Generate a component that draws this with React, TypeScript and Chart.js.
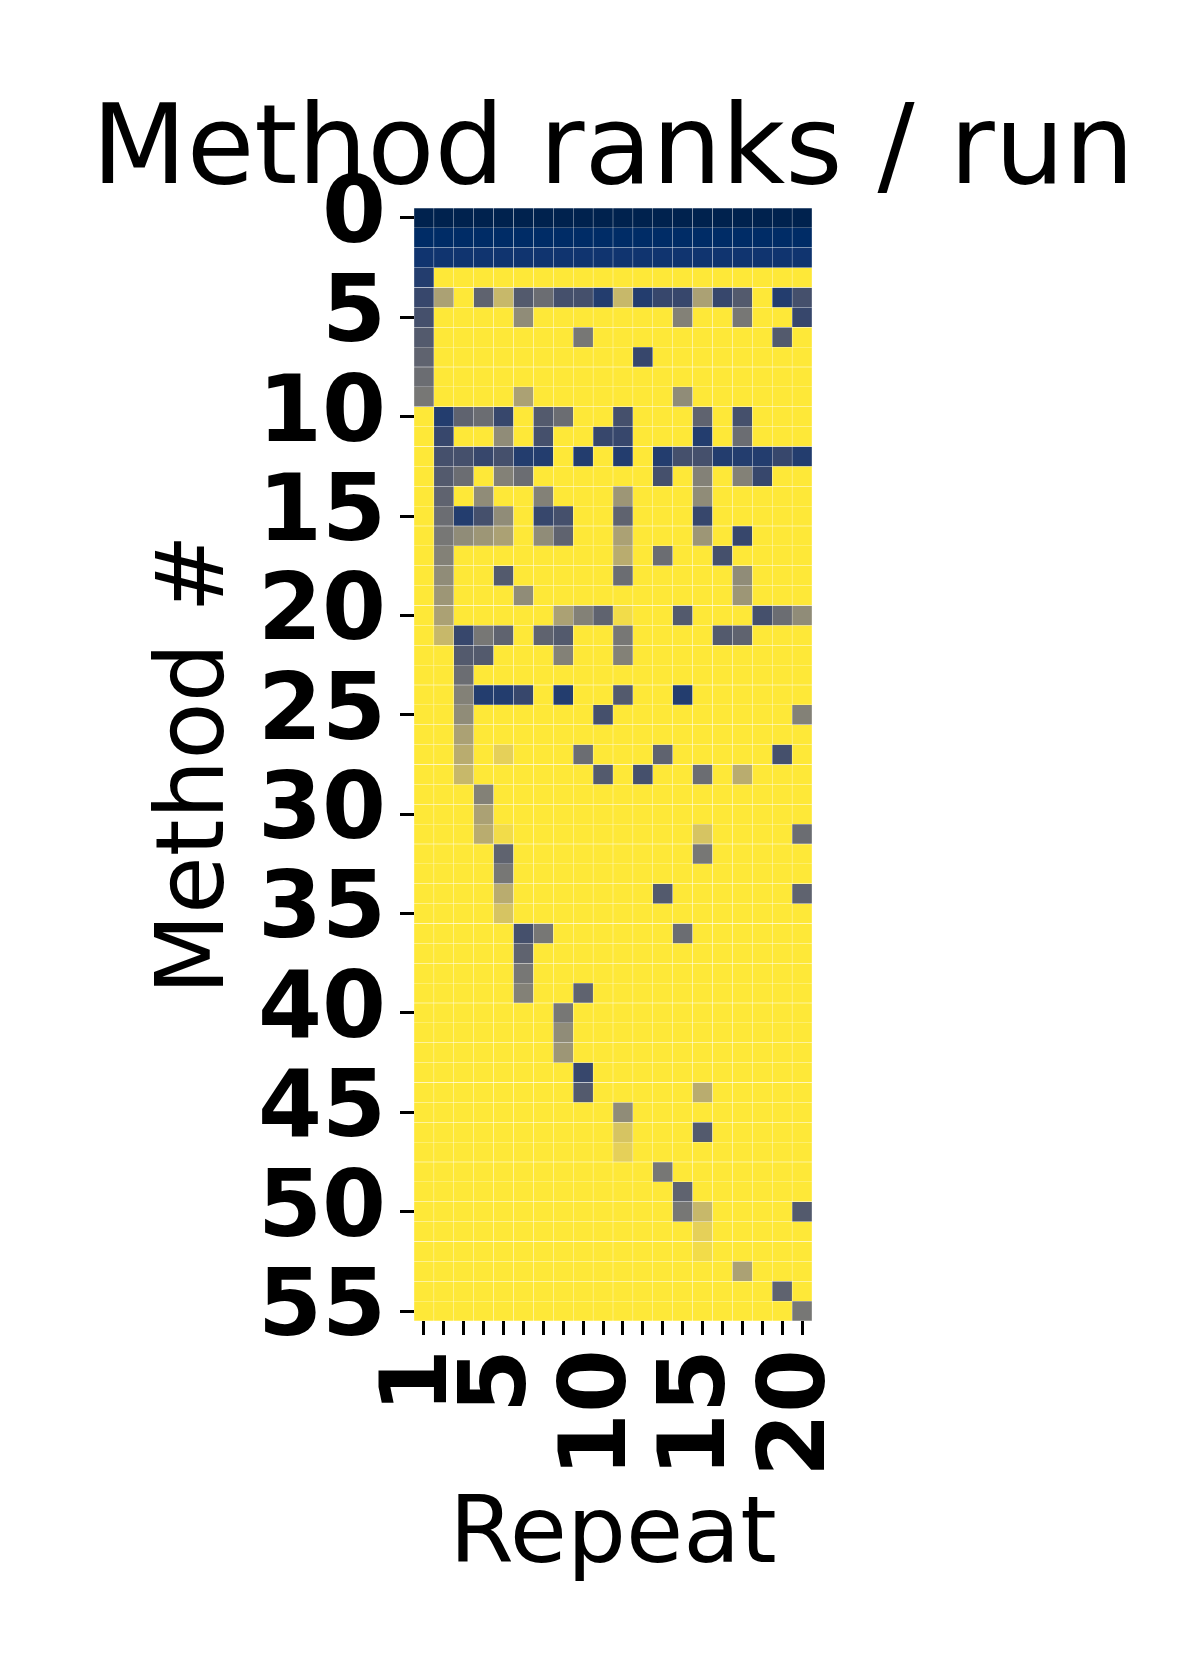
import React, { useEffect, useRef } from 'react';
import { Chart, registerables } from 'chart.js';

Chart.register(...registerables);

// ---------- data ----------
const titleText = 'Method ranks / run';
const xAxisTitle = 'Repeat';
const yAxisTitle = 'Method #';

// columns = repeats (runs)
const repeats = ['1', '2', '3', '4', '5', '6', '7', '8', '9', '10', '11', '12', '13', '14', '15', '16', '17', '18', '19', '20'];
// only these repeat labels are printed under the ticks
const xTickLabels = ['1', '5', '10', '15', '20'];
// y ticks (method index)
const yTickValues = [0, 5, 10, 15, 20, 25, 30, 35, 40, 45, 50, 55];

// colour scale: rank 0 -> darkest, rank >= maxRank -> yellow
const maxRank = 19;
const U = 19; // ranked outside the shown range (drawn yellow)

// rank of each method (row) in each repeat (column)
const ranks: number[][] = [
  [0, 0, 0, 0, 0, 0, 0, 0, 0, 0, 0, 0, 0, 0, 0, 0, 0, 0, 0, 0],
  [1, 1, 1, 1, 1, 1, 1, 1, 1, 1, 1, 1, 1, 1, 1, 1, 1, 1, 1, 1],
  [2, 2, 2, 2, 2, 2, 2, 2, 2, 2, 2, 2, 2, 2, 2, 2, 2, 2, 2, 2],
  [3, U, U, U, U, U, U, U, U, U, U, U, U, U, U, U, U, U, U, U],
  [4, 13, U, 7, 15, 6, 8, 5, 5, 3, 15, 3, 4, 4, 13, 4, 6, U, 3, 5],
  [5, U, U, U, U, 11, U, U, U, U, U, U, U, 10, U, U, 9, U, U, 4],
  [6, U, U, U, U, U, U, U, 9, U, U, U, U, U, U, U, U, U, 6, U],
  [7, U, U, U, U, U, U, U, U, U, U, 4, U, U, U, U, U, U, U, U],
  [8, U, U, U, U, U, U, U, U, U, U, U, U, U, U, U, U, U, U, U],
  [9, U, U, U, U, 13, U, U, U, U, U, U, U, 11, U, U, U, U, U, U],
  [U, 3, 7, 8, 4, U, 6, 8, U, U, 5, U, U, U, 7, U, 5, U, U, U],
  [U, 4, U, U, 11, U, 5, U, U, 4, 4, U, U, U, 3, U, 8, U, U, U],
  [U, 5, 5, 4, 5, 3, 3, U, 3, U, 3, U, 3, 5, 5, 3, 3, 3, 4, 3],
  [U, 6, 8, U, 10, 8, U, U, U, U, U, U, 5, U, 10, U, 10, 4, U, U],
  [U, 7, U, 11, U, U, 10, U, U, U, 12, U, U, U, 11, U, U, U, U, U],
  [U, 8, 3, 5, 11, U, 4, 5, U, U, 7, U, U, U, 4, U, U, U, U, U],
  [U, 9, 11, 12, 13, U, 11, 7, U, U, 13, U, U, U, 12, U, 4, U, U, U],
  [U, 10, U, U, U, U, U, U, U, U, 14, U, 8, U, U, 5, U, U, U, U],
  [U, 11, U, U, 6, U, U, U, U, U, 8, U, U, U, U, U, 11, U, U, U],
  [U, 12, U, U, U, 11, U, U, U, U, U, U, U, U, U, U, 12, U, U, U],
  [U, 13, U, U, U, U, U, 13, 10, 7, 18, U, U, 6, U, U, U, 5, 8, 11],
  [U, 15, 4, 9, 7, U, 7, 6, U, U, 9, U, U, U, U, 6, 7, U, U, U],
  [U, U, 6, 6, U, U, U, 10, U, U, 10, U, U, U, U, U, U, U, U, U],
  [U, U, 8, U, U, U, U, U, U, U, U, U, U, U, U, U, U, U, U, U],
  [U, U, 10, 3, 3, 4, U, 3, U, U, 6, U, U, 3, U, U, U, U, U, U],
  [U, U, 11, U, U, U, U, U, U, 5, U, U, U, U, U, U, U, U, U, 10],
  [U, U, 13, U, U, U, U, U, U, U, U, U, U, U, U, U, U, U, U, U],
  [U, U, 14, U, 17, U, U, U, 8, U, U, U, 7, U, U, U, U, U, 5, U],
  [U, U, 15, U, U, U, U, U, U, 6, U, 5, U, U, 8, U, 14, U, U, U],
  [U, U, U, 10, U, U, U, U, U, U, U, U, U, U, U, U, U, U, U, U],
  [U, U, U, 13, U, U, U, U, U, U, U, U, U, U, U, U, U, U, U, U],
  [U, U, U, 14, 18, U, U, U, U, U, U, U, U, U, 16, U, U, U, U, 8],
  [U, U, U, U, 7, U, U, U, U, U, U, U, U, U, 9, U, U, U, U, U],
  [U, U, U, U, 9, U, U, U, U, U, U, U, U, U, U, U, U, U, U, U],
  [U, U, U, U, 14, U, U, U, U, U, U, U, 6, U, U, U, U, U, U, 7],
  [U, U, U, U, 16, U, U, U, U, U, U, U, U, U, U, U, U, U, U, U],
  [U, U, U, U, U, 5, 9, U, U, U, U, U, U, 8, U, U, U, U, U, U],
  [U, U, U, U, U, 7, U, U, U, U, U, U, U, U, U, U, U, U, U, U],
  [U, U, U, U, U, 9, U, U, U, U, U, U, U, U, U, U, U, U, U, U],
  [U, U, U, U, U, 10, U, U, 7, U, U, U, U, U, U, U, U, U, U, U],
  [U, U, U, U, U, U, U, 9, U, U, U, U, U, U, U, U, U, U, U, U],
  [U, U, U, U, U, U, U, 11, U, U, U, U, U, U, U, U, U, U, U, U],
  [U, U, U, U, U, U, U, 12, U, U, U, U, U, U, U, U, U, U, U, U],
  [U, U, U, U, U, U, U, U, 4, U, U, U, U, U, U, U, U, U, U, U],
  [U, U, U, U, U, U, U, U, 6, U, U, U, U, U, 14, U, U, U, U, U],
  [U, U, U, U, U, U, U, U, U, U, 11, U, U, U, U, U, U, U, U, U],
  [U, U, U, U, U, U, U, U, U, U, 16, U, U, U, 6, U, U, U, U, U],
  [U, U, U, U, U, U, U, U, U, U, 17, U, U, U, U, U, U, U, U, U],
  [U, U, U, U, U, U, U, U, U, U, U, U, 9, U, U, U, U, U, U, U],
  [U, U, U, U, U, U, U, U, U, U, U, U, U, 7, U, U, U, U, U, U],
  [U, U, U, U, U, U, U, U, U, U, U, U, U, 9, 15, U, U, U, U, 6],
  [U, U, U, U, U, U, U, U, U, U, U, U, U, U, 17, U, U, U, U, U],
  [U, U, U, U, U, U, U, U, U, U, U, U, U, U, 18, U, U, U, U, U],
  [U, U, U, U, U, U, U, U, U, U, U, U, U, U, U, U, 13, U, U, U],
  [U, U, U, U, U, U, U, U, U, U, U, U, U, U, U, U, U, U, 7, U],
  [U, U, U, U, U, U, U, U, U, U, U, U, U, U, U, U, U, U, U, 9],
];

// ---------- style ----------
const FONT = '"DejaVu Sans", "Liberation Sans", sans-serif';

const cividisStops: [number, string][] = [
  [0.0, '#00224e'],
  [0.055, '#002c67'],
  [0.111, '#123570'],
  [0.222, '#3b496c'],
  [0.333, '#575d6d'],
  [0.444, '#707173'],
  [0.556, '#8a8779'],
  [0.667, '#a69d75'],
  [0.778, '#c4b56c'],
  [0.889, '#e4cf5b'],
  [1.0, '#fee838'],
];

function hexToRgb(h: string): number[] {
  return [parseInt(h.slice(1, 3), 16), parseInt(h.slice(3, 5), 16), parseInt(h.slice(5, 7), 16)];
}

function cividis(t: number): string {
  const x = Math.max(0, Math.min(1, t));
  for (let i = 0; i < cividisStops.length - 1; i++) {
    const [t0, c0] = cividisStops[i];
    const [t1, c1] = cividisStops[i + 1];
    if (x <= t1) {
      const f = (x - t0) / (t1 - t0);
      const a = hexToRgb(c0);
      const b = hexToRgb(c1);
      const rgb = a.map((v, k) => Math.round(v + (b[k] - v) * f));
      return `rgb(${rgb[0]},${rgb[1]},${rgb[2]})`;
    }
  }
  return cividisStops[cividisStops.length - 1][1];
}

const titlePlugin = {
  id: 'figureTitle',
  afterDraw(chart: any) {
    const { ctx, chartArea } = chart;
    ctx.save();
    ctx.font = `110px ${FONT}`;
    ctx.fillStyle = '#000';
    ctx.textAlign = 'center';
    ctx.textBaseline = 'alphabetic';
    ctx.fillText(titleText, (chartArea.left + chartArea.right) / 2, chartArea.top - 25);
    ctx.restore();
  },
};

export default function App() {
  const ref = useRef<HTMLCanvasElement>(null);

  useEffect(() => {
    document.body.style.margin = '0';
    const canvas = ref.current;
    if (!canvas) return;

    const datasets = ranks.map((row, r) => ({
      label: `Method ${r}`,
      data: row.map(() => [r - 0.5, r + 0.5]),
      backgroundColor: row.map((v) => cividis(Math.min(v, maxRank) / maxRank)),
      borderColor: 'rgba(255,255,255,0.07)',
      borderWidth: 0.5,
      borderSkipped: false as any,
      grouped: false,
      barPercentage: 1,
      categoryPercentage: 1,
    }));

    const chart = new Chart(canvas, {
      type: 'bar',
      data: { labels: repeats, datasets: datasets as any },
      options: {
        responsive: false,
        animation: false,
        devicePixelRatio: 1,
        layout: { padding: { left: 142, right: 388, top: 208, bottom: 86 } },
        plugins: {
          legend: { display: false },
          tooltip: { enabled: false },
          title: { display: false },
        },
        scales: {
          x: {
            type: 'category',
            offset: true,
            border: { display: false },
            grid: {
              display: true,
              offset: false,
              drawOnChartArea: false,
              drawTicks: true,
              tickLength: 14,
              tickWidth: 3,
              tickColor: '#000',
            },
            ticks: {
              autoSkip: false,
              minRotation: 90,
              maxRotation: 90,
              padding: 14,
              labelOffset: -2,
              color: '#000',
              font: { family: FONT, size: 92, weight: 'bold' },
              callback: (_v: any, i: number) => (xTickLabels.includes(repeats[i]) ? repeats[i] : ''),
            },
            title: {
              display: true,
              text: xAxisTitle,
              color: '#000',
              padding: 0,
              font: { family: FONT, size: 93 },
            },
            afterFit: (scale: any) => {
              scale.height = 273;
            },
          },
          y: {
            type: 'linear',
            reverse: true,
            min: -0.5,
            max: ranks.length - 0.5,
            border: { display: false },
            grid: {
              display: true,
              drawOnChartArea: false,
              drawTicks: true,
              tickLength: 14,
              tickWidth: 3,
              tickColor: '#000',
            },
            ticks: {
              autoSkip: false,
              padding: 14,
              labelOffset: 0,
              color: '#000',
              font: { family: FONT, size: 92, weight: 'bold' },
            },
            afterBuildTicks: (scale: any) => {
              scale.ticks = yTickValues.map((v) => ({ value: v }));
            },
            title: {
              display: true,
              text: yAxisTitle,
              color: '#000',
              padding: 0,
              font: { family: FONT, size: 94 },
            },
            afterFit: (scale: any) => {
              scale.width = 272;
            },
          },
        },
      } as any,
      plugins: [titlePlugin],
    });

    return () => chart.destroy();
  }, []);

  return <canvas ref={ref} width={1200} height={1680} style={{ display: 'block' }} />;
}
